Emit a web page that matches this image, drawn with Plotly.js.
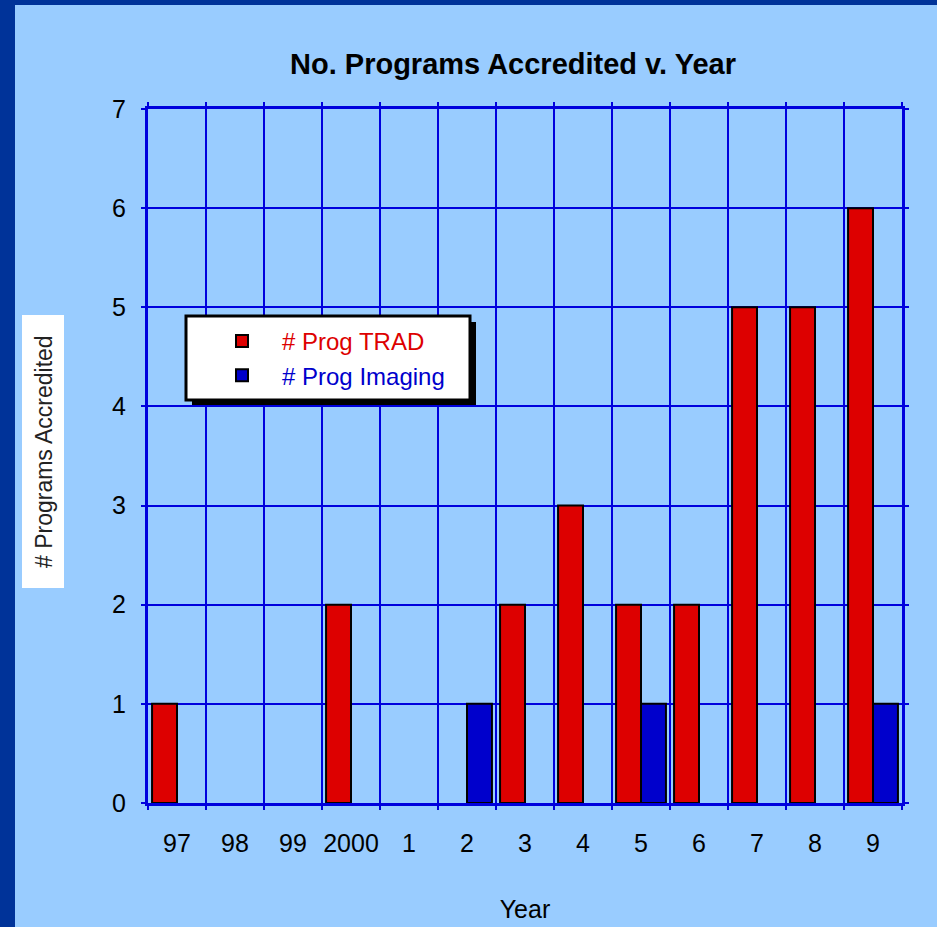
<!DOCTYPE html>
<html>
<head>
<meta charset="utf-8">
<script src="https://cdn.plot.ly/plotly-3.0.1.min.js"></script>
<style>
  html, body { margin: 0; padding: 0; background: #003399; width: 937px; height: 927px; overflow: hidden; }
  #chart { position: absolute; left: 15px; top: 5px; width: 922px; height: 922px; }
</style>
</head>
<body>
<div id="chart"></div>
<script>
// ---- data ----
const years = ["97", "98", "99", "2000", "1", "2", "3", "4", "5", "6", "7", "8", "9"];
const progTrad = [1, 0, 0, 2, 0, 0, 2, 3, 2, 2, 5, 5, 6];
const progImaging = [0, 0, 0, 0, 0, 1, 0, 0, 1, 0, 0, 0, 1];
const seriesNames = ["# Prog TRAD", "# Prog Imaging"];
const yTickVals = [0, 1, 2, 3, 4, 5, 6, 7];

const RED = "#dd0000";
const BLUE = "#0000cc";
const GRID = "#0000dd";
const FONT = "Liberation Sans, Arial, Helvetica, sans-serif";

// pixel -> paper helpers (plot area: x 148..902, y 109..803 in page coords)
const px = p => (p - 148) / 754;
const py = p => (803 - p) / 694;
// zero-height bars are not drawn (avoids outline slivers on the axis)
const hideZero = arr => arr.map(v => (v === 0 ? null : v));

const traces = [
  {
    type: "bar",
    x: years,
    y: hideZero(progTrad),
    name: '<span style="color:' + RED + '">&nbsp;&nbsp;&nbsp;' + seriesNames[0] + '</span>',
    marker: { color: RED, line: { color: "#000000", width: 2 } }
  },
  {
    type: "bar",
    x: years,
    y: hideZero(progImaging),
    name: '<span style="color:' + BLUE + '">&nbsp;&nbsp;&nbsp;' + seriesNames[1] + '</span>',
    marker: { color: BLUE, line: { color: "#000000", width: 2 } }
  }
];

const layout = {
  width: 922,
  height: 922,
  paper_bgcolor: "#99ccff",
  plot_bgcolor: "#99ccff",
  margin: { l: 133, r: 35, t: 104, b: 124 },
  font: { family: FONT, size: 25, color: "#000000" },
  barmode: "group",
  bargap: 0.14,
  bargroupgap: 0,
  showlegend: true,
  title: {
    text: "<b>No. Programs Accredited v. Year</b>",
    font: { family: FONT, size: 29, color: "#000000" },
    xref: "container", yref: "container",
    x: (513 - 15) / 922, xanchor: "center",
    y: 1 - (64 - 5) / 922, yanchor: "middle"
  },
  xaxis: {
    type: "category",
    tickson: "boundaries",
    tickangle: 0,
    showgrid: true, gridcolor: GRID, gridwidth: 2,
    showline: true, linecolor: GRID, linewidth: 3, mirror: "ticks",
    ticks: "outside", ticklen: 4, tickcolor: GRID, tickwidth: 2,
    ticklabelstandoff: 16,
    tickfont: { family: FONT, size: 25, color: "#000000" },
    title: { text: "Year", font: { family: FONT, size: 25, color: "#000000" }, standoff: 45 },
    fixedrange: true
  },
  yaxis: {
    range: [0, 7],
    tickvals: yTickVals,
    showgrid: true, gridcolor: GRID, gridwidth: 2,
    zeroline: false,
    showline: true, linecolor: GRID, linewidth: 3, mirror: "ticks",
    ticks: "outside", ticklen: 4, tickcolor: GRID, tickwidth: 2,
    ticklabelstandoff: 10,
    tickfont: { family: FONT, size: 25, color: "#000000" },
    fixedrange: true
  },
  legend: {
    x: px(222), xanchor: "left",
    y: py(319), yanchor: "top",
    bgcolor: "rgba(0,0,0,0)",
    borderwidth: 0,
    font: { family: FONT, size: 24 },
    tracegroupgap: 0
  },
  shapes: [
    { type: "rect", xref: "paper", yref: "paper", layer: "above",
      x0: px(192), x1: px(476), y0: py(322), y1: py(405),
      fillcolor: "#000000", line: { width: 0 } },
    { type: "rect", xref: "paper", yref: "paper", layer: "above",
      x0: px(186), x1: px(470), y0: py(316), y1: py(400),
      fillcolor: "#ffffff", line: { color: "#000000", width: 3 } },
    { type: "rect", xref: "paper", yref: "paper", layer: "above",
      x0: px(22), x1: px(64), y0: py(315), y1: py(588),
      fillcolor: "#ffffff", line: { width: 0 } }
  ],
  annotations: [
    {
      text: "# Programs Accredited",
      xref: "paper", yref: "paper",
      x: px(44), y: py(452),
      xanchor: "center", yanchor: "middle",
      textangle: -90,
      showarrow: false,
      font: { family: FONT, size: 23, color: "#222222" }
    }
  ]
};

Plotly.newPlot("chart", traces, layout, { displayModeBar: false, staticPlot: true });
</script>
</body>
</html>
